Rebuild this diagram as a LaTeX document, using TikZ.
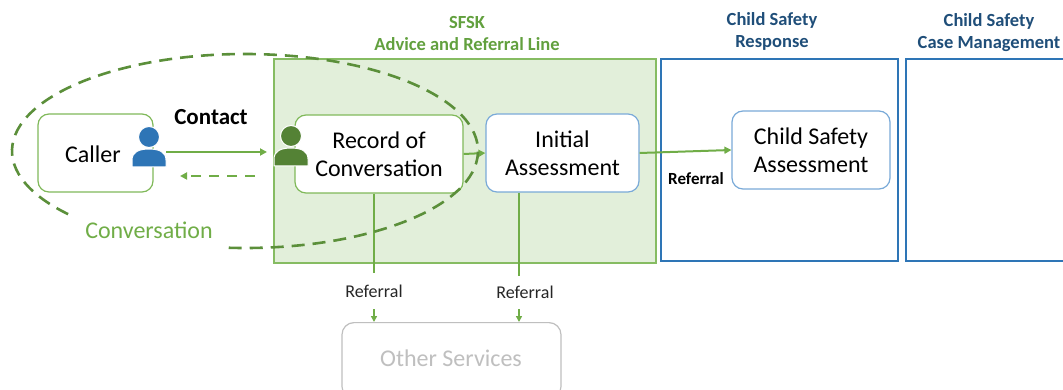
\documentclass[tikz,border=0pt]{standalone}
\usepackage{fontspec}
\setmainfont{Carlito}
\usetikzlibrary{arrows.meta}
\definecolor{sfskfill}{HTML}{E2EFDA}
\definecolor{sfskline}{HTML}{86BC62}
\definecolor{conncol}{HTML}{70AD47}
\definecolor{dashcol}{HTML}{5B8F3A}
\definecolor{titlegreen}{HTML}{62A03E}
\definecolor{titleblue}{HTML}{1F4E79}
\definecolor{boxblue}{HTML}{2E75B6}
\definecolor{lightblue}{HTML}{7AAAD8}
\definecolor{greenbord}{HTML}{80B95A}
\definecolor{iconblue}{HTML}{2E75B6}
\definecolor{icongreen}{HTML}{548235}
\definecolor{greytext}{HTML}{BFBFBF}
\begin{document}
\begin{tikzpicture}[x=1pt,y=1pt,
  boxtext/.style={font=\fontsize{24}{28}\selectfont, align=center, text=black},
  greenbox/.style={draw=greenbord, line width=1.2pt, fill=white, rounded corners=11pt, boxtext},
  bluebox/.style={draw=lightblue, line width=1.2pt, fill=white, rounded corners=11pt, boxtext},
  panel/.style={draw=boxblue, line width=1.3pt, fill=white, inner sep=0pt},
  title/.style={font=\bfseries\fontsize{18.5}{22}\selectfont, align=center, inner sep=0pt},
  conn/.style={draw=conncol, line width=2pt},
  tip/.style={-{Triangle[length=7pt,width=7pt]}},
  smalllab/.style={font=\fontsize{18}{20}\selectfont, text=black!85, inner sep=0pt}
]
\useasboundingbox (0,0) rectangle (1063,-390);
\clip (0,0) rectangle (1063,-390);

% panels
\node[draw=sfskline, line width=1.4pt, fill=sfskfill, inner sep=0pt,
      minimum width=382pt, minimum height=204pt] (sfsk) at (465,-161) {};
\node[panel, minimum width=237pt, minimum height=202pt] (resp) at (779.5,-160) {};
\node[panel, minimum width=170pt, minimum height=202pt] (casem) at (991,-160) {};

% titles
\node[title, text=titlegreen] (t1) at (467,-34) {SFSK\\Advice and Referral Line};
\node[title, text=titleblue] (t2) at (772,-31) {Child Safety\\Response};
\node[title, text=titleblue] (t3) at (989,-33) {Child Safety\\Case Management};

% boxes
\node[greenbox, minimum width=115pt, minimum height=78pt] (caller) at (95.5,-153) {};
\node[boxtext, inner sep=0pt] (callertxt) at (93,-154) {Caller};
\node[greenbox, minimum width=168pt, minimum height=78pt, inner sep=0pt] (record) at (379,-154) {Record of\\Conversation};
\node[bluebox, minimum width=153pt, minimum height=78pt, inner sep=0pt] (initial) at (562.5,-153) {Initial\\Assessment};
\node[bluebox, minimum width=158pt, minimum height=78pt, inner sep=0pt] (csa) at (811,-150) {Child Safety\\Assessment};
\node[draw=greytext, line width=1.2pt, rounded corners=12pt, fill=white,
      minimum width=219pt, minimum height=76pt, inner sep=0pt,
      font=\fontsize{24}{28}\selectfont, text=greytext, anchor=north] (other) at (451.5,-322) {};
\node[font=\fontsize{24}{28}\selectfont, text=greytext, inner sep=0pt] (othertxt) at (451,-358) {Other Services};

% icons
\node[inner sep=0pt, minimum width=32pt, minimum height=30pt] (bicon) at (149,-151) {};
\fill[iconblue, draw=white, line width=1pt] (149,-137) circle[radius=10.5pt];
\fill[iconblue, draw=white, line width=1pt] (132,-167) -- (132,-160) .. controls (132,-152) and (139,-149) .. (149,-149) .. controls (159,-149) and (166,-152) .. (166,-160) -- (166,-167) -- cycle;
\node[inner sep=0pt, minimum width=32pt, minimum height=30pt] (gicon) at (291,-151) {};
\fill[icongreen, draw=white, line width=1pt] (291,-136) circle[radius=10.5pt];
\fill[icongreen, draw=white, line width=1pt] (274,-166) -- (274,-159) .. controls (274,-151) and (281,-148) .. (291,-148) .. controls (301,-148) and (308,-151) .. (308,-159) -- (308,-166) -- cycle;

% labels
\node[font=\bfseries\fontsize{23}{26}\selectfont, inner sep=0pt] (contact) at (211,-117) {Contact};
\node[font=\fontsize{24}{28}\selectfont, text=conncol, inner sep=0pt] (convlab) at (149,-230) {Conversation};
\node[font=\bfseries\fontsize{17}{20}\selectfont, inner sep=0pt] (ref0) at (696,-179) {Referral};
\node[smalllab] (ref1) at (374,-291) {Referral};
\node[smalllab] (ref2) at (525,-292) {Referral};

% connectors
\coordinate (c1) at (166,-152);
\coordinate (c2) at (267,-152);
\draw[conn, tip] (c1) -- (c2);
\coordinate (d1) at (255,-176);
\coordinate (d2) at (180,-176);
\draw[conn, tip, dash pattern=on 10pt off 8pt] (d1) -- (d2);
\draw[conn, tip] (record.east) -- (initial.west);
\draw[conn, tip] (initial.east) -- (csa.west);
\coordinate (r1) at (374,-273);
\coordinate (r2) at (519,-276);
\draw[conn, line width=2.8pt] (record.south -| r1) -- (r1);
\draw[conn] (initial.south -| r2) -- (r2);
\coordinate (a1) at (374,-309);
\coordinate (a2) at (519,-309);
\draw[conn, line width=1.5pt, -{Triangle[length=6pt,width=6pt]}] (a1) -- (other.north -| a1);
\draw[conn, line width=1.5pt, -{Triangle[length=6pt,width=6pt]}] (a2) -- (other.north -| a2);

% conversation ellipse
\draw[dashcol, line width=2.6pt, dash pattern=on 13pt off 8pt]
  ([shift={(266:233pt and 97pt)}]245,-151) arc[start angle=266, end angle=583, x radius=233pt, y radius=97pt];
\end{tikzpicture}
\end{document}
